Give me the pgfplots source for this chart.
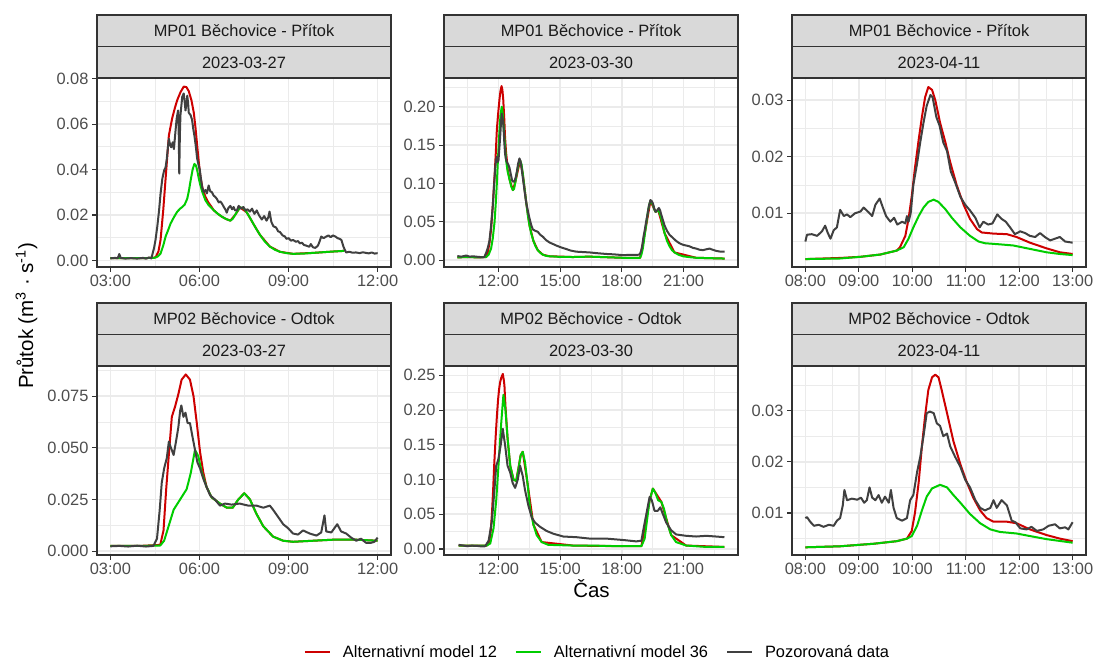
\documentclass[border=0pt]{standalone}
\usepackage{fontspec}
\setmainfont{Liberation Sans}
\usepackage{pgfplots}
\pgfplotsset{compat=1.18}

\definecolor{grey10}{HTML}{1A1A1A}
\definecolor{grey20}{HTML}{333333}
\definecolor{grey30}{HTML}{4D4D4D}
\definecolor{grey85}{HTML}{D9D9D9}
\definecolor{grey92}{HTML}{EBEBEB}
\definecolor{mred}{HTML}{CD0000}
\definecolor{mgreen}{HTML}{00CD00}
\definecolor{mobs}{HTML}{404040}

\newcommand{\ggsmall}{\fontsize{16.4bp}{19bp}\selectfont}

\pgfplotsset{
  panel/.style={
    scale only axis, width=294bp, height=189bp, anchor=south west,
    axis line style={grey20, line width=1.1bp},
    grid=both,
    major grid style={grey92, line width=1.6bp},
    minor grid style={grey92, line width=0.8bp},
    tick style={grey20, line width=1.1bp},
    major tick length=5bp, minor tick length=0pt,
    tick align=outside, xtick pos=lower, ytick pos=left,
    ticklabel style={font=\ggsmall, text=grey30},
    every axis plot/.append style={line width=2bp, line join=round, no markers},
  },
  col1/.style={xmin=2.55, xmax=12.45, xtick={3,6,9,12},
    xticklabels={03:00,06:00,09:00,12:00}, minor xtick={4.5,7.5,10.5}},
  col2/.style={xmin=9.35, xmax=23.65, xtick={12,15,18,21},
    xticklabels={12:00,15:00,18:00,21:00}, minor xtick={10.5,13.5,16.5,19.5,22.5}},
  col3/.style={xmin=7.75, xmax=13.25, xtick={8,9,10,11,12,13},
    xticklabels={08:00,09:00,10:00,11:00,12:00,13:00}, minor xtick={8.5,9.5,10.5,11.5,12.5}},
}

\begin{document}
\begin{tikzpicture}
\useasboundingbox (0,0) rectangle (1093bp,660bp);

% ---------- MP01, 2023-03-27
\begin{axis}[panel, col1, at={(97bp,393bp)},
  ymin=-0.0029, ymax=0.0803,
  ytick={0,0.02,0.04,0.06,0.08}, yticklabels={0.00,0.02,0.04,0.06,0.08},
  minor ytick={0.01,0.03,0.05,0.07}]
\addplot[mred] coordinates {(3.0,0.001) (4.0,0.001) (4.45,0.0011) (4.53,0.0015) (4.62,0.004) (4.69,0.009) (4.78,0.022) (4.86,0.036) (4.97,0.055) (5.08,0.0625) (5.17,0.067) (5.25,0.0705) (5.36,0.074) (5.47,0.0765) (5.56,0.0763) (5.64,0.0745) (5.73,0.0705) (5.81,0.065) (5.87,0.058) (5.92,0.051) (5.98,0.043) (6.03,0.037) (6.1,0.032) (6.2,0.028) (6.3,0.0255) (6.4,0.0237) (6.48,0.0221) (6.62,0.0205) (6.76,0.0192) (6.9,0.0182) (7.04,0.0175) (7.2,0.020) (7.37,0.0233) (7.59,0.0212) (7.82,0.016) (8.04,0.0112) (8.37,0.0061) (8.71,0.0038) (9.15,0.0029) (9.82,0.0033) (10.49,0.0039) (10.88,0.0042)};
\addplot[mgreen] coordinates {(3.0,0.001) (4.0,0.001) (4.45,0.0011) (4.53,0.0013) (4.6,0.0018) (4.69,0.003) (4.78,0.0065) (4.86,0.0105) (4.95,0.0135) (5.03,0.0163) (5.14,0.019) (5.25,0.0214) (5.35,0.0228) (5.42,0.0235) (5.5,0.0245) (5.59,0.0272) (5.65,0.031) (5.7,0.035) (5.77,0.040) (5.83,0.0425) (5.88,0.0418) (5.92,0.040) (5.97,0.0365) (6.03,0.0331) (6.1,0.0300) (6.2,0.0265) (6.3,0.0245) (6.48,0.0221) (6.62,0.0205) (6.76,0.0192) (6.9,0.0182) (7.04,0.0175) (7.12,0.0183) (7.2,0.020) (7.3,0.0222) (7.37,0.0233) (7.45,0.0232) (7.52,0.0225) (7.59,0.0212) (7.7,0.0188) (7.82,0.016) (7.93,0.0135) (8.04,0.0112) (8.2,0.0083) (8.37,0.0061) (8.54,0.0047) (8.71,0.0038) (8.93,0.0032) (9.15,0.0029) (9.5,0.003) (9.82,0.0033) (10.15,0.0036) (10.49,0.0039) (10.88,0.0042)};
\addplot[mobs] coordinates {(3.0,0.0009) (3.15,0.0011) (3.25,0.001) (3.3,0.0028) (3.35,0.0011) (3.5,0.0008) (3.7,0.0010) (3.9,0.0008) (4.1,0.0011) (4.2,0.0008) (4.3,0.0013) (4.38,0.0009) (4.47,0.0054) (4.52,0.009) (4.58,0.0149) (4.64,0.022) (4.69,0.0294) (4.75,0.036) (4.81,0.0396) (4.86,0.041) (4.9,0.0447) (4.94,0.05) (4.97,0.0535) (5.01,0.051) (5.05,0.0498) (5.1,0.052) (5.14,0.049) (5.18,0.055) (5.23,0.0622) (5.28,0.066) (5.3,0.058) (5.32,0.0382) (5.34,0.055) (5.36,0.064) (5.39,0.068) (5.42,0.072) (5.47,0.0735) (5.5,0.070) (5.53,0.066) (5.56,0.069) (5.59,0.0725) (5.62,0.069) (5.64,0.065) (5.7,0.064) (5.75,0.062) (5.79,0.058) (5.83,0.0549) (5.88,0.05) (5.92,0.045) (5.97,0.042) (6.01,0.040) (6.05,0.036) (6.09,0.0323) (6.14,0.030) (6.2,0.031) (6.25,0.0295) (6.31,0.033) (6.36,0.0305) (6.42,0.030) (6.48,0.0285) (6.53,0.028) (6.59,0.027) (6.65,0.0255) (6.7,0.026) (6.76,0.025) (6.82,0.0235) (6.87,0.0225) (6.92,0.021) (6.97,0.023) (7.04,0.024) (7.1,0.0225) (7.15,0.0235) (7.2,0.022) (7.26,0.022) (7.32,0.024) (7.4,0.0228) (7.48,0.0235) (7.55,0.022) (7.62,0.0225) (7.7,0.0215) (7.77,0.0228) (7.85,0.0205) (7.93,0.022) (8.0,0.020) (8.1,0.018) (8.18,0.0195) (8.26,0.0175) (8.32,0.019) (8.36,0.0215) (8.42,0.017) (8.49,0.015) (8.58,0.0145) (8.65,0.0128) (8.71,0.0125) (8.8,0.011) (8.88,0.0105) (8.93,0.0095) (9.0,0.0098) (9.08,0.0087) (9.15,0.009) (9.25,0.0082) (9.32,0.0085) (9.38,0.0075) (9.45,0.0078) (9.52,0.0068) (9.6,0.0065) (9.7,0.006) (9.75,0.0072) (9.82,0.0058) (9.9,0.0055) (9.99,0.0065) (10.05,0.0085) (10.1,0.0105) (10.18,0.0098) (10.27,0.0105) (10.35,0.011) (10.42,0.0102) (10.49,0.011) (10.58,0.0105) (10.65,0.0098) (10.72,0.0095) (10.78,0.009) (10.85,0.006) (10.9,0.0045) (10.94,0.0035) (11.05,0.0038) (11.15,0.0034) (11.27,0.0035) (11.4,0.0032) (11.5,0.0036) (11.61,0.0033) (11.7,0.0031) (11.8,0.0035) (11.9,0.003) (12.0,0.0032)};
\end{axis}

% ---------- MP01, 2023-03-30
\begin{axis}[panel, col2, at={(444bp,393bp)},
  ymin=-0.009, ymax=0.2375,
  ytick={0,0.05,0.1,0.15,0.2}, yticklabels={0.00,0.05,0.10,0.15,0.20},
  minor ytick={0.025,0.075,0.125,0.175,0.225}]
\addplot[mred] coordinates {(10.0,0.0035) (10.5,0.004) (11.0,0.0035) (11.4,0.004) (11.48,0.01) (11.56,0.022) (11.64,0.04) (11.72,0.07) (11.81,0.11) (11.87,0.14) (11.92,0.17) (11.98,0.19) (12.05,0.21) (12.1,0.221) (12.15,0.227) (12.19,0.222) (12.23,0.21) (12.28,0.185) (12.32,0.16) (12.37,0.14) (12.41,0.13) (12.45,0.118) (12.54,0.105) (12.7,0.0913) (12.83,0.103) (13.05,0.13) (13.18,0.113) (13.35,0.075) (13.51,0.045) (13.7,0.025) (13.91,0.013) (14.16,0.007) (14.48,0.005) (15.62,0.004) (16.43,0.0045) (18.05,0.003) (18.89,0.003) (19.15,0.04) (19.39,0.077) (19.64,0.063) (19.77,0.065) (20.08,0.035) (20.56,0.01) (21.62,0.003) (23.0,0.002)};
\addplot[mgreen] coordinates {(10.0,0.0035) (10.5,0.004) (11.0,0.0035) (11.4,0.004) (11.52,0.007) (11.64,0.015) (11.72,0.028) (11.81,0.05) (11.87,0.075) (11.92,0.1) (11.98,0.135) (12.05,0.17) (12.1,0.19) (12.16,0.2) (12.21,0.19) (12.26,0.17) (12.32,0.148) (12.37,0.13) (12.45,0.115) (12.54,0.105) (12.62,0.096) (12.7,0.0913) (12.76,0.093) (12.83,0.103) (12.9,0.115) (12.94,0.12) (13.0,0.128) (13.05,0.13) (13.12,0.125) (13.18,0.113) (13.26,0.095) (13.35,0.075) (13.43,0.058) (13.51,0.045) (13.6,0.034) (13.7,0.025) (13.8,0.018) (13.91,0.013) (14.03,0.0095) (14.16,0.007) (14.32,0.0055) (14.48,0.005) (15.0,0.0042) (15.62,0.004) (16.43,0.0045) (17.2,0.0038) (18.05,0.003) (18.89,0.003) (18.95,0.007) (19.02,0.015) (19.08,0.026) (19.15,0.04) (19.22,0.054) (19.28,0.065) (19.34,0.073) (19.39,0.077) (19.45,0.0755) (19.51,0.072) (19.58,0.066) (19.64,0.063) (19.7,0.064) (19.77,0.065) (19.84,0.061) (19.91,0.055) (20.0,0.045) (20.08,0.035) (20.2,0.025) (20.32,0.018) (20.44,0.013) (20.56,0.01) (20.76,0.007) (20.97,0.005) (21.3,0.0038) (21.62,0.003) (22.3,0.0025) (23.0,0.002)};
\addplot[mobs] coordinates {(10.0,0.0052) (10.2,0.0045) (10.43,0.006) (10.6,0.0045) (10.75,0.005) (10.91,0.0045) (11.1,0.004) (11.24,0.0035) (11.32,0.0045) (11.4,0.0096) (11.48,0.016) (11.56,0.025) (11.64,0.045) (11.72,0.0696) (11.78,0.095) (11.84,0.1196) (11.88,0.13) (11.92,0.1348) (11.96,0.128) (12.0,0.13) (12.04,0.145) (12.08,0.16) (12.12,0.178) (12.16,0.191) (12.2,0.185) (12.24,0.175) (12.28,0.155) (12.32,0.139) (12.36,0.132) (12.41,0.128) (12.47,0.125) (12.54,0.12) (12.6,0.112) (12.66,0.104) (12.72,0.102) (12.78,0.103) (12.84,0.108) (12.89,0.115) (12.95,0.125) (13.02,0.1326) (13.06,0.13) (13.1,0.125) (13.16,0.112) (13.22,0.1) (13.28,0.088) (13.35,0.0748) (13.43,0.064) (13.51,0.0543) (13.59,0.046) (13.67,0.040) (13.8,0.038) (13.91,0.037) (14.03,0.033) (14.16,0.0304) (14.32,0.026) (14.48,0.023) (14.65,0.021) (14.81,0.019) (15.05,0.0165) (15.29,0.0145) (15.5,0.0125) (15.78,0.011) (16.1,0.0105) (16.43,0.01) (16.8,0.009) (17.24,0.008) (17.6,0.0075) (18.05,0.0065) (18.4,0.0068) (18.86,0.007) (18.94,0.012) (19.0,0.02) (19.05,0.03) (19.12,0.04) (19.18,0.05) (19.25,0.06) (19.31,0.07) (19.39,0.0783) (19.45,0.077) (19.51,0.074) (19.58,0.067) (19.64,0.063) (19.72,0.065) (19.8,0.068) (19.86,0.065) (19.91,0.06) (20.0,0.052) (20.08,0.045) (20.2,0.038) (20.32,0.033) (20.48,0.029) (20.64,0.025) (20.8,0.022) (20.97,0.02) (21.13,0.019) (21.29,0.018) (21.45,0.016) (21.62,0.015) (21.78,0.0135) (21.94,0.013) (22.1,0.014) (22.26,0.015) (22.42,0.0135) (22.59,0.012) (22.8,0.011) (23.0,0.011)};
\end{axis}

% ---------- MP01, 2023-04-11
\begin{axis}[panel, col3, at={(792bp,393bp)},
  ymin=0.0005, ymax=0.0339,
  ytick={0.01,0.02,0.03}, yticklabels={0.01,0.02,0.03},
  minor ytick={0.005,0.015,0.025}]
\addplot[mred] coordinates {(8.0,0.0019) (8.65,0.0021) (9.03,0.0023) (9.4,0.0027) (9.71,0.0034) (9.77,0.004) (9.87,0.006) (9.93,0.009) (9.99,0.013) (10.05,0.018) (10.12,0.023) (10.18,0.027) (10.24,0.0305) (10.3,0.0323) (10.37,0.0318) (10.43,0.030) (10.52,0.026) (10.62,0.0225) (10.71,0.019) (10.83,0.015) (10.96,0.0115) (11.08,0.009) (11.21,0.0072) (11.3,0.0066) (11.52,0.0064) (11.77,0.0063) (11.95,0.0058) (12.2,0.0048) (12.51,0.0038) (12.76,0.0031) (13.0,0.0028)};
\addplot[mgreen] coordinates {(8.0,0.0019) (8.65,0.002) (9.03,0.0023) (9.4,0.0027) (9.71,0.0034) (9.84,0.004) (9.93,0.0055) (10.02,0.0075) (10.12,0.0095) (10.21,0.011) (10.3,0.012) (10.4,0.0124) (10.49,0.012) (10.62,0.0107) (10.74,0.0092) (10.9,0.0075) (11.08,0.006) (11.24,0.005) (11.36,0.0047) (11.64,0.0045) (11.89,0.0043) (12.2,0.0037) (12.51,0.0031) (12.76,0.0028) (13.0,0.0026)};
\addplot[mobs] coordinates {(8.0,0.005) (8.03,0.0062) (8.12,0.0063) (8.22,0.006) (8.31,0.0068) (8.37,0.0078) (8.42,0.0065) (8.47,0.0055) (8.53,0.007) (8.59,0.0075) (8.65,0.0106) (8.72,0.0095) (8.78,0.0098) (8.84,0.0093) (8.93,0.010) (9.03,0.0103) (9.09,0.011) (9.18,0.0102) (9.25,0.0095) (9.31,0.0115) (9.39,0.0126) (9.45,0.011) (9.51,0.0095) (9.59,0.0085) (9.66,0.0092) (9.72,0.008) (9.81,0.0085) (9.87,0.0082) (9.9,0.0095) (9.93,0.0085) (9.97,0.010) (10.02,0.015) (10.09,0.0188) (10.15,0.0226) (10.21,0.026) (10.27,0.029) (10.34,0.0309) (10.38,0.0305) (10.45,0.027) (10.51,0.0255) (10.58,0.0225) (10.65,0.021) (10.72,0.0174) (10.8,0.0155) (10.9,0.0129) (10.99,0.0115) (11.08,0.0105) (11.18,0.0092) (11.26,0.0075) (11.33,0.0085) (11.42,0.008) (11.5,0.0082) (11.59,0.0098) (11.67,0.009) (11.75,0.0085) (11.83,0.0075) (11.92,0.0063) (12.02,0.0068) (12.11,0.0065) (12.2,0.006) (12.3,0.0058) (12.39,0.0065) (12.48,0.0058) (12.58,0.0052) (12.67,0.0055) (12.76,0.0058) (12.86,0.005) (13.0,0.0048)};
\end{axis}

% ---------- MP02, 2023-03-27
\begin{axis}[panel, col1, at={(97bp,105bp)},
  ymin=-0.0019, ymax=0.0896,
  ytick={0,0.025,0.05,0.075}, yticklabels={0.000,0.025,0.050,0.075},
  minor ytick={0.0125,0.0375,0.0625,0.0875}]
\addplot[mred] coordinates {(3.0,0.0025) (4.0,0.0025) (4.68,0.003) (4.79,0.01) (4.88,0.03) (4.96,0.045) (5.07,0.065) (5.18,0.070) (5.29,0.076) (5.4,0.083) (5.54,0.0855) (5.68,0.083) (5.8,0.075) (5.91,0.062) (6.02,0.048) (6.13,0.038) (6.24,0.031) (6.41,0.026) (6.69,0.023) (6.92,0.021) (7.12,0.021) (7.31,0.025) (7.51,0.028) (7.7,0.025) (7.92,0.018) (8.15,0.012) (8.48,0.007) (8.82,0.005) (9.15,0.0045) (9.82,0.005) (10.49,0.0055) (11.28,0.0055) (12.0,0.005)};
\addplot[mgreen] coordinates {(3.0,0.0025) (4.0,0.0025) (4.68,0.0027) (4.81,0.005) (4.96,0.012) (5.13,0.020) (5.35,0.025) (5.57,0.030) (5.71,0.038) (5.85,0.049) (5.96,0.046) (6.08,0.038) (6.24,0.031) (6.41,0.026) (6.69,0.023) (6.92,0.021) (7.12,0.021) (7.31,0.025) (7.51,0.028) (7.7,0.025) (7.92,0.018) (8.15,0.012) (8.48,0.007) (8.82,0.005) (9.15,0.0045) (9.82,0.005) (10.49,0.0055) (11.28,0.0055) (12.0,0.005)};
\addplot[mobs] coordinates {(3.0,0.0023) (3.3,0.0025) (3.6,0.0022) (3.9,0.0026) (4.2,0.0022) (4.45,0.0025) (4.57,0.006) (4.66,0.0197) (4.73,0.033) (4.81,0.040) (4.9,0.045) (4.97,0.053) (5.04,0.050) (5.13,0.0465) (5.21,0.053) (5.29,0.060) (5.35,0.068) (5.39,0.0705) (5.46,0.065) (5.53,0.067) (5.6,0.062) (5.68,0.062) (5.77,0.055) (5.85,0.049) (5.93,0.043) (6.02,0.040) (6.13,0.035) (6.24,0.031) (6.36,0.027) (6.52,0.025) (6.69,0.022) (6.86,0.023) (7.08,0.0225) (7.36,0.023) (7.64,0.022) (7.92,0.022) (8.15,0.021) (8.37,0.022) (8.48,0.020) (8.65,0.0165) (8.82,0.013) (8.99,0.011) (9.15,0.0085) (9.32,0.008) (9.49,0.010) (9.71,0.0085) (9.94,0.0075) (10.1,0.009) (10.21,0.0173) (10.27,0.0095) (10.44,0.009) (10.64,0.013) (10.77,0.0095) (10.94,0.0085) (11.11,0.0065) (11.28,0.005) (11.44,0.006) (11.61,0.004) (11.78,0.004) (11.89,0.0045) (12.0,0.0065)};
\end{axis}

% ---------- MP02, 2023-03-30
\begin{axis}[panel, col2, at={(444bp,105bp)},
  ymin=-0.0086, ymax=0.2634,
  ytick={0,0.05,0.1,0.15,0.2,0.25}, yticklabels={0.00,0.05,0.10,0.15,0.20,0.25},
  minor ytick={0.025,0.075,0.125,0.175,0.225},
  legend columns=3,
  legend style={at={(axis description cs:0.522,-0.513)}, anchor=center,
    draw=none, fill=none, font=\ggsmall, text=black,
    /tikz/every odd column/.append style={column sep=10bp},
    /tikz/every even column/.append style={column sep=16bp}},
  legend image code/.code={\draw[#1] (0bp,0bp) -- (25bp,0bp);}]
\addplot[mred] coordinates {(10.06,0.005) (11.43,0.005) (11.55,0.01) (11.62,0.025) (11.68,0.05) (11.74,0.085) (11.79,0.12) (11.86,0.16) (11.92,0.19) (11.98,0.215) (12.03,0.23) (12.08,0.24) (12.13,0.246) (12.21,0.252) (12.26,0.243) (12.29,0.235) (12.34,0.205) (12.44,0.16) (12.57,0.12) (12.73,0.10) (12.86,0.098) (13.08,0.135) (13.18,0.14) (13.41,0.095) (13.7,0.035) (14.1,0.01) (15.63,0.005) (18.06,0.004) (18.95,0.004) (19.35,0.07) (19.51,0.087) (19.92,0.068) (20.4,0.02) (21.13,0.005) (22.99,0.003)};
\addplot[mgreen] coordinates {(10.06,0.005) (11.43,0.005) (11.6,0.008) (11.76,0.03) (11.89,0.07) (12.0,0.12) (12.13,0.18) (12.24,0.222) (12.34,0.20) (12.44,0.16) (12.57,0.12) (12.73,0.10) (12.86,0.098) (12.97,0.115) (13.08,0.135) (13.18,0.14) (13.29,0.125) (13.41,0.095) (13.53,0.06) (13.7,0.035) (13.86,0.02) (14.1,0.01) (14.42,0.006) (15.63,0.005) (16.44,0.005) (18.06,0.004) (18.95,0.004) (19.11,0.015) (19.24,0.045) (19.35,0.07) (19.51,0.087) (19.64,0.080) (19.77,0.070) (19.92,0.068) (20.05,0.058) (20.2,0.038) (20.4,0.02) (20.64,0.01) (21.13,0.005) (22.1,0.003) (22.99,0.003)};
\addplot[mobs] coordinates {(10.06,0.006) (10.3,0.005) (10.47,0.004) (10.7,0.0048) (10.95,0.0045) (11.15,0.0038) (11.35,0.004) (11.52,0.012) (11.68,0.040) (11.79,0.080) (11.89,0.12) (11.95,0.125) (12.0,0.13) (12.11,0.15) (12.21,0.173) (12.27,0.16) (12.32,0.15) (12.44,0.12) (12.57,0.11) (12.69,0.095) (12.81,0.088) (12.94,0.10) (13.05,0.12) (13.18,0.105) (13.29,0.085) (13.45,0.063) (13.62,0.045) (13.78,0.038) (14.02,0.032) (14.34,0.026) (14.67,0.022) (15.15,0.018) (15.8,0.017) (16.44,0.015) (17.25,0.015) (18.06,0.013) (18.7,0.011) (18.95,0.012) (19.06,0.03) (19.19,0.05) (19.35,0.075) (19.46,0.07) (19.59,0.055) (19.75,0.055) (19.87,0.06) (20.0,0.05) (20.16,0.038) (20.4,0.027) (20.64,0.021) (21.13,0.019) (21.61,0.018) (22.1,0.019) (22.58,0.018) (22.99,0.017)};
\addlegendentry{Alternativní model 12}
\addlegendentry{Alternativní model 36}
\addlegendentry{Pozorovaná data}
\end{axis}

% ---------- MP02, 2023-04-11
\begin{axis}[panel, col3, at={(792bp,105bp)},
  ymin=0.0018, ymax=0.0387,
  ytick={0.01,0.02,0.03}, yticklabels={0.01,0.02,0.03},
  minor ytick={0.005,0.015,0.025,0.035}]
\addplot[mred] coordinates {(8.0,0.0033) (8.65,0.0035) (9.28,0.004) (9.71,0.0045) (9.9,0.005) (9.99,0.0065) (10.05,0.010) (10.12,0.016) (10.18,0.023) (10.24,0.029) (10.3,0.034) (10.37,0.0365) (10.43,0.037) (10.49,0.0365) (10.55,0.034) (10.65,0.0295) (10.77,0.024) (10.9,0.0195) (11.02,0.016) (11.14,0.013) (11.27,0.0105) (11.39,0.009) (11.52,0.0083) (11.77,0.0083) (11.95,0.008) (12.2,0.0068) (12.51,0.0057) (12.76,0.005) (13.0,0.0045)};
\addplot[mgreen] coordinates {(8.0,0.0033) (8.65,0.0035) (9.28,0.004) (9.71,0.0045) (9.9,0.005) (9.99,0.0055) (10.09,0.0075) (10.18,0.0105) (10.27,0.0132) (10.37,0.0148) (10.52,0.0155) (10.65,0.015) (10.77,0.0135) (10.9,0.012) (11.08,0.0098) (11.27,0.008) (11.46,0.0068) (11.64,0.0063) (11.95,0.006) (12.2,0.0055) (12.51,0.0049) (13.0,0.0042)};
\addplot[mobs] coordinates {(8.0,0.009) (8.03,0.0092) (8.09,0.0083) (8.16,0.0075) (8.25,0.0077) (8.34,0.0073) (8.44,0.0077) (8.53,0.0075) (8.59,0.0085) (8.65,0.009) (8.7,0.0115) (8.73,0.0145) (8.78,0.0125) (8.87,0.0128) (8.97,0.0126) (9.04,0.013) (9.1,0.012) (9.15,0.0125) (9.2,0.015) (9.25,0.013) (9.31,0.0125) (9.37,0.0135) (9.43,0.012) (9.49,0.0132) (9.56,0.012) (9.6,0.0145) (9.65,0.011) (9.71,0.009) (9.81,0.0085) (9.9,0.009) (9.96,0.0125) (10.02,0.0135) (10.09,0.018) (10.15,0.021) (10.21,0.025) (10.27,0.0295) (10.33,0.0298) (10.4,0.0295) (10.46,0.0275) (10.52,0.027) (10.58,0.025) (10.65,0.0255) (10.71,0.023) (10.8,0.021) (10.9,0.019) (10.99,0.0165) (11.08,0.015) (11.18,0.0125) (11.27,0.011) (11.36,0.0105) (11.46,0.011) (11.52,0.0125) (11.58,0.011) (11.67,0.0125) (11.77,0.0115) (11.86,0.0085) (11.93,0.0082) (12.02,0.007) (12.14,0.0068) (12.23,0.0073) (12.33,0.0065) (12.45,0.0068) (12.55,0.0075) (12.67,0.0078) (12.76,0.007) (12.86,0.0072) (12.92,0.0068) (13.0,0.0082)};
\end{axis}

% ---------- facet strips
\tikzset{strip/.style={draw=grey20, line width=1.1bp, fill=grey85},
  striptext/.style={font=\ggsmall, text=grey10, text height=11.7bp, text depth=0bp, anchor=center}}
\foreach \x/\d in {97/2023-03-27, 444/2023-03-30, 792/2023-04-11} {
  \path[strip] (\x bp,613.5bp) rectangle ++(294bp,31.5bp);
  \path[strip] (\x bp,582bp) rectangle ++(294bp,31.5bp);
  \node[striptext] at (\x bp+147bp,629.25bp) {MP01 Běchovice - Přítok};
  \node[striptext] at (\x bp+147bp,597.75bp) {\d};
  \path[strip] (\x bp,325.5bp) rectangle ++(294bp,31.5bp);
  \path[strip] (\x bp,294bp) rectangle ++(294bp,31.5bp);
  \node[striptext] at (\x bp+147bp,341.25bp) {MP02 Běchovice - Odtok};
  \node[striptext] at (\x bp+147bp,309.75bp) {\d};
}

% ---------- axis titles
\node[rotate=90, anchor=base, font=\fontsize{20.5bp}{24bp}\selectfont] at (33bp,344bp)
  {Průtok (m\textsuperscript{3} · s\textsuperscript{-1})};
\node[anchor=base, font=\fontsize{20.5bp}{24bp}\selectfont] at (591.5bp,62bp) {Čas};
\end{tikzpicture}
\end{document}
